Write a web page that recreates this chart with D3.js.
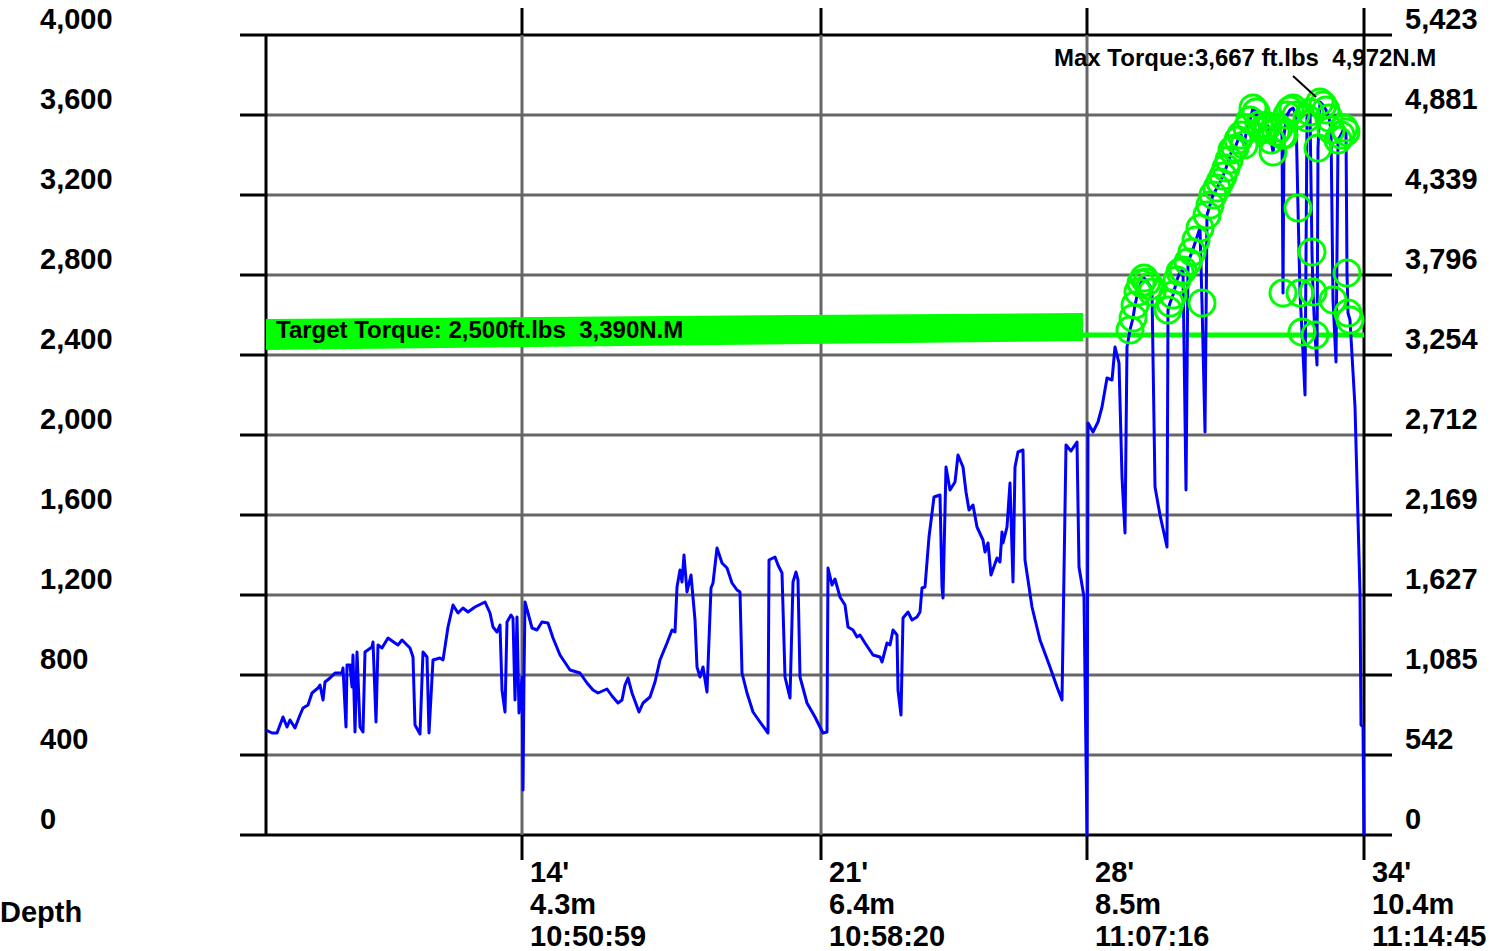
<!DOCTYPE html>
<html>
<head>
<meta charset="utf-8">
<script src="https://cdn.jsdelivr.net/npm/d3@7"></script>
<style>
  body { margin: 0; background: #fff; }
  svg { display: block; }
  text { font-family: "Liberation Sans", Arial, sans-serif; font-weight: bold; fill: #000; white-space: pre; }
</style>
</head>
<body>
<div id="chart"></div>
<script>
  // torque axis (ft.lbs on the left, N.M on the right)
  const ftTicks = [0, 400, 800, 1200, 1600, 2000, 2400, 2800, 3200, 3600, 4000];
  const nmLabels = ["0", "542", "1,085", "1,627", "2,169", "2,712", "3,254", "3,796", "4,339", "4,881", "5,423"];

  // depth marks along the run (sample position, feet, metres, clock time)
  const depthSample = [256, 555, 821, 1098];
  const depthFt = ["14'", "21'", "28'", "34'"];
  const depthM = ["4.3m", "6.4m", "8.5m", "10.4m"];
  const depthTime = ["10:50:59", "10:58:20", "11:07:16", "11:14:45"];

  const targetTorque = 2500;
  const targetLabel = "Target Torque: 2,500ft.lbs  3,390N.M";
  const maxLabel = "Max Torque:3,667 ft.lbs  4,972N.M";

  // torque trace
  const sample = [
    0, 6, 11, 17, 21, 24, 29, 34, 37, 42, 46, 52, 54, 57, 59, 64, 69, 76, 77, 80,
    81, 84, 86, 87, 89, 91, 94, 97, 99, 106, 107, 110, 112, 116, 122, 129, 132, 136, 144, 147,
    149, 154, 157, 161, 163, 167, 174, 177, 182, 187, 192, 197, 202, 209, 219, 224, 227, 231, 234, 236,
    239, 241, 245, 247, 249, 251, 253, 256, 257, 258, 259, 262, 266, 271, 276, 282, 287, 294, 304, 314,
    321, 327, 332, 341, 346, 352, 356, 359, 362, 366, 373, 377, 384, 389, 394, 401, 406, 409, 411, 414,
    416, 418, 421, 425, 429, 431, 434, 437, 441, 445, 447, 451, 456, 461, 466, 471, 474, 476, 481, 487,
    494, 502, 503, 509, 512, 516, 519, 524, 527, 530, 532, 534, 541, 549, 557, 561, 562, 566, 569, 574,
    579, 582, 587, 591, 594, 599, 607, 614, 616, 621, 624, 627, 631, 632, 635, 637, 642, 646, 651, 654,
    656, 659, 663, 668, 674, 676, 677, 680, 684, 689, 692, 697, 700, 703, 707, 711, 717, 719, 722, 725,
    731, 734, 736, 737, 741, 744, 747, 749, 752, 757, 759, 766, 774, 784, 791, 796, 800, 805, 811, 813,
    818, 821, 822, 827, 832, 836, 841, 846, 849, 853, 856, 859, 861, 864, 867, 869, 872, 875, 878, 881,
    884, 886, 889, 894, 901, 902, 904, 907, 911, 914, 917, 920, 922, 926, 930, 934, 936, 939, 941, 944,
    947, 951, 954, 957, 960, 963, 966, 969, 972, 975, 978, 981, 984, 987, 990, 993, 996, 999, 1002, 1005,
    1007, 1010, 1013, 1016, 1017, 1018, 1021, 1024, 1027, 1030, 1032, 1034, 1036, 1039, 1041, 1044, 1046, 1047, 1049, 1051,
    1052, 1054, 1057, 1060, 1063, 1065, 1067, 1070, 1072, 1075, 1078, 1080, 1081, 1082, 1084, 1089, 1094, 1095, 1097, 1098
  ];
  const torque = [
    525, 510, 510, 590, 540, 575, 535, 600, 635, 650, 710, 735, 750, 675, 765, 785, 810, 810, 835, 540,
    850, 850, 740, 900, 515, 915, 540, 515, 915, 940, 965, 565, 950, 935, 985, 960, 950, 975, 935, 890,
    550, 505, 915, 890, 510, 875, 885, 875, 1040, 1150, 1110, 1135, 1115, 1140, 1165, 1110, 1040, 1015, 1050, 725,
    615, 1065, 1100, 1085, 675, 1090, 610, 790, 225, 790, 1165, 1110, 1035, 1025, 1065, 1060, 985, 900, 825, 810,
    760, 725, 710, 730, 695, 660, 675, 750, 785, 710, 615, 660, 690, 765, 875, 960, 1025, 1015, 1240, 1325,
    1265, 1400, 1215, 1300, 1075, 840, 790, 840, 715, 1235, 1260, 1435, 1360, 1335, 1260, 1225, 1215, 810, 710, 615,
    565, 510, 1375, 1390, 1350, 1310, 790, 685, 1265, 1315, 1275, 790, 660, 590, 510, 515, 1335, 1250, 1280, 1190,
    1150, 1040, 1025, 990, 1000, 960, 900, 890, 865, 960, 950, 1025, 1000, 725, 600, 1085, 1115, 1075, 1090, 1115,
    1235, 1240, 1490, 1690, 1700, 1240, 1185, 1840, 1725, 1765, 1900, 1840, 1715, 1625, 1650, 1540, 1475, 1415, 1460, 1300,
    1385, 1365, 1515, 1460, 1540, 1760, 1265, 1840, 1915, 1925, 1375, 1140, 975, 840, 740, 675, 1950, 1920, 1965, 1340,
    1190, 0, 2060, 2015, 2065, 2140, 2285, 2275, 2440, 2360, 1790, 1510, 2440, 2525, 2585, 2650, 2715, 2760, 2785, 2765,
    2745, 2715, 1740, 1600, 1440, 2625, 2660, 2700, 2775, 2815, 2825, 1725, 2865, 2915, 2975, 3035, 2660, 2015, 3100, 3150,
    3200, 3235, 3265, 3295, 3335, 3375, 3425, 3435, 3475, 3500, 3450, 3535, 3575, 3635, 3615, 3550, 3525, 3535, 3545, 3475,
    3415, 3515, 3535, 3500, 2710, 3500, 3600, 3625, 3635, 3600, 3135, 2710, 2515, 2200, 3585, 3615, 2915, 2715, 2500, 2350,
    3435, 3665, 3650, 3625, 3585, 3525, 2675, 2365, 3475, 3500, 3535, 3515, 2810, 2610, 2575, 2140, 1210, 550, 540, 0
  ];

  const W = 1505, H = 951;
  const svg = d3.select("#chart").append("svg")
    .attr("width", W)
    .attr("height", H);

  const x = d3.scaleLinear().domain([0, 1098]).range([266, 1364]);
  const y = d3.scaleLinear().domain([0, 4000]).range([835, 35]);

  const grey = "#666";
  const tickLen = 26;

  // horizontal grid + ticks on both sides
  ftTicks.forEach(function(v) {
    const edge = (v === 0 || v === 4000);
    svg.append("line")
      .attr("x1", x(0)).attr("x2", x(1098))
      .attr("y1", y(v)).attr("y2", y(v))
      .attr("stroke", edge ? "#000" : grey)
      .attr("stroke-width", 3);
    svg.append("line")
      .attr("x1", x(0) - tickLen).attr("x2", x(0))
      .attr("y1", y(v)).attr("y2", y(v))
      .attr("stroke", "#000").attr("stroke-width", 3);
    svg.append("line")
      .attr("x1", x(1098)).attr("x2", x(1098) + 28)
      .attr("y1", y(v)).attr("y2", y(v))
      .attr("stroke", "#000").attr("stroke-width", 3);
  });

  // vertical depth lines
  depthSample.forEach(function(s, i) {
    const last = i === depthSample.length - 1;
    svg.append("line")
      .attr("x1", x(s)).attr("x2", x(s))
      .attr("y1", y(4000)).attr("y2", y(0))
      .attr("stroke", last ? "#000" : grey)
      .attr("stroke-width", 3);
    svg.append("line")
      .attr("x1", x(s)).attr("x2", x(s))
      .attr("y1", y(4000) - 27).attr("y2", y(4000))
      .attr("stroke", "#000").attr("stroke-width", 3);
    svg.append("line")
      .attr("x1", x(s)).attr("x2", x(s))
      .attr("y1", y(0)).attr("y2", y(0) + 25)
      .attr("stroke", "#000").attr("stroke-width", 3);
  });

  // left axis line
  svg.append("line")
    .attr("x1", x(0)).attr("x2", x(0))
    .attr("y1", y(4000)).attr("y2", y(0))
    .attr("stroke", "#000").attr("stroke-width", 3);

  // axis labels
  svg.selectAll(".ft").data(ftTicks).join("text")
    .attr("x", 40)
    .attr("y", d => y(d) - 6)
    .style("font-size", "29px")
    .text(d => d3.format(",")(d));

  svg.selectAll(".nm").data(nmLabels).join("text")
    .attr("x", 1405)
    .attr("y", (d, i) => y(ftTicks[i]) - 6)
    .style("font-size", "29px")
    .text(d => d);

  [depthFt, depthM, depthTime].forEach(function(row, r) {
    svg.selectAll(".dl" + r).data(row).join("text")
      .attr("x", (d, i) => x(depthSample[i]) + 8)
      .attr("y", y(0) + 47 + r * 32)
      .style("font-size", "29px")
      .text(d => d);
  });

  svg.append("text")
    .attr("x", 0)
    .attr("y", 922)
    .style("font-size", "29px")
    .text("Depth");

  // target torque band and line
  const ty = y(targetTorque);
  const bandEnd = 817;
  svg.append("polygon")
    .attr("points", [
      [x(0), ty - 16], [x(bandEnd), ty - 22],
      [x(bandEnd), ty + 6], [x(0), ty + 15]
    ].map(p => p.join(",")).join(" "))
    .attr("fill", "#00ff00");
  svg.append("line")
    .attr("x1", x(bandEnd)).attr("x2", x(1098))
    .attr("y1", ty).attr("y2", ty)
    .attr("stroke", "#00ff00").attr("stroke-width", 5);

  // torque trace
  const pts = sample.map((s, i) => [s, torque[i]]);
  svg.append("path")
    .datum(pts)
    .attr("fill", "none")
    .attr("stroke", "#0000ff")
    .attr("stroke-width", 3)
    .attr("stroke-linejoin", "round")
    .attr("d", d3.line().x(d => x(d[0])).y(d => y(d[1])));

  // markers on points at or above target
  svg.selectAll(".hit").data(pts.filter(d => d[1] >= targetTorque)).join("circle")
    .attr("cx", d => x(d[0]))
    .attr("cy", d => y(d[1]))
    .attr("r", 13)
    .attr("fill", "none")
    .attr("stroke", "#00ff00")
    .attr("stroke-width", 3);

  svg.append("text")
    .attr("x", x(0) + 10)
    .attr("y", ty + 3)
    .style("font-size", "24px")
    .text(targetLabel);

  // max torque callout
  const iMax = d3.maxIndex(torque);
  svg.append("line")
    .attr("x1", x(sample[iMax]) - 27).attr("y1", y(torque[iMax]) - 26)
    .attr("x2", x(sample[iMax]) - 4).attr("y2", y(torque[iMax]) - 5)
    .attr("stroke", "#000").attr("stroke-width", 2);
  svg.append("text")
    .attr("x", 1054)
    .attr("y", 66)
    .style("font-size", "24px")
    .text(maxLabel);
</script>
</body>
</html>
